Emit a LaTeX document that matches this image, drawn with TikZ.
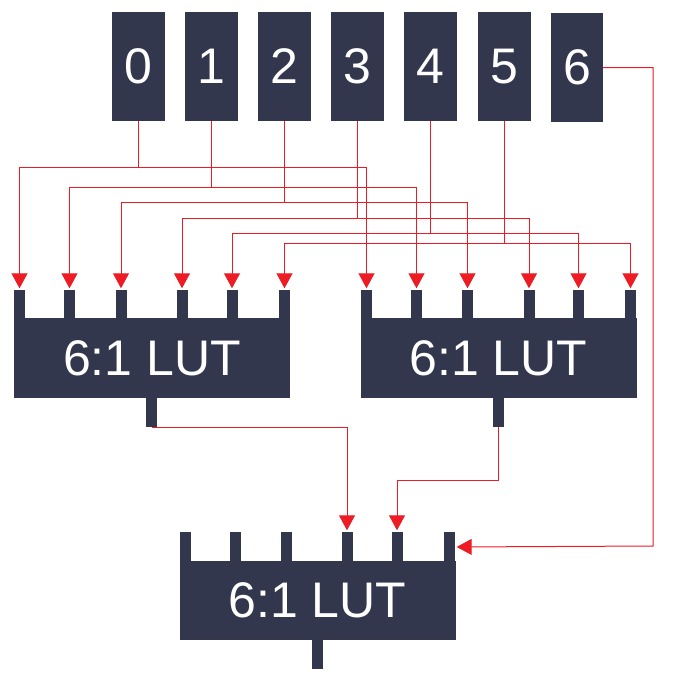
\documentclass[tikz,border=0pt]{standalone}
\usepackage{fontspec}
\setmainfont{Liberation Sans}
\usetikzlibrary{arrows.meta}
\definecolor{navy}{RGB}{50,55,77}
\definecolor{wirered}{RGB}{237,28,36}
\begin{document}
\begin{tikzpicture}[x=1pt,y=-1pt,
  blk/.style={fill=navy,inner sep=0pt,text=white,font=\fontsize{50}{50}\selectfont},
  numbox/.style={blk,minimum width=53pt,minimum height=109pt},
  pin/.style={fill=navy,inner sep=0pt,minimum width=11pt,minimum height=30pt},
  lut/.style={blk,minimum width=276pt,minimum height=80pt},
  wire/.style={draw=wirered,line width=1pt},
  arr/.style={wire,-{Triangle[width=16pt,length=15pt]},shorten >=1.5pt}]
\useasboundingbox (0,0) rectangle (675,675);

% input boxes
\node[numbox] (b0) at (138.5,66.5) {0};
\node[numbox] (b1) at (211.5,66.5) {1};
\node[numbox] (b2) at (284.5,66.5) {2};
\node[numbox] (b3) at (357.5,66.5) {3};
\node[numbox] (b4) at (430.5,66.5) {4};
\node[numbox] (b5) at (504,66.5) {5};
\node[numbox,minimum width=52pt] (b6) at (577,67.5) {6};

% left LUT
\node[lut] (lutL) at (152,358) {6:1 LUT};
\foreach \n/\x in {1/19.5,2/69.5,3/121,4/182,5/232,6/284.5}
  \node[pin] (l\n) at (\x,305) {};
\node[pin] (outL) at (151.5,412) {};

% right LUT
\node[lut] (lutR) at (498.5,358) {6:1 LUT};
\foreach \n/\x in {1/366.5,2/416.5,3/467.5,4/529,5/578.5,6/630.5}
  \node[pin] (r\n) at (\x,305) {};
\node[pin] (outR) at (498.5,412) {};

% bottom LUT
\node[lut,minimum height=79pt] (lutB) at (317.5,600) {6:1 LUT};
\foreach \n/\x in {1/185.5,2/235,3/286,4/347,5/397,6/449.5}
  \node[pin] (p\n) at (\x,547) {};
\node[pin,minimum height=31pt] (outB) at (317.5,653.5) {};

% input wires
\foreach \i/\y [count=\k] in {0/167,1/187,2/202,3/218,4/233,5/243}{
  \draw[wire] (b\i.south) -- (b\i.south |- 0,\y) coordinate (j\i);
  \draw[arr] (j\i) -| (l\k.north);
  \draw[arr] (j\i) -| (r\k.north);
}

% LUT outputs to bottom LUT
\draw[arr] (outL.south) -| (p4.north);
\coordinate (kR) at (498.5,480);
\draw[arr] (outR.south) -- (kR) -| (p5.north);

% input 6
\coordinate (c6) at (653,546);
\draw[arr] (b6.east) -| (c6) -- (p6.east);
\end{tikzpicture}
\end{document}
